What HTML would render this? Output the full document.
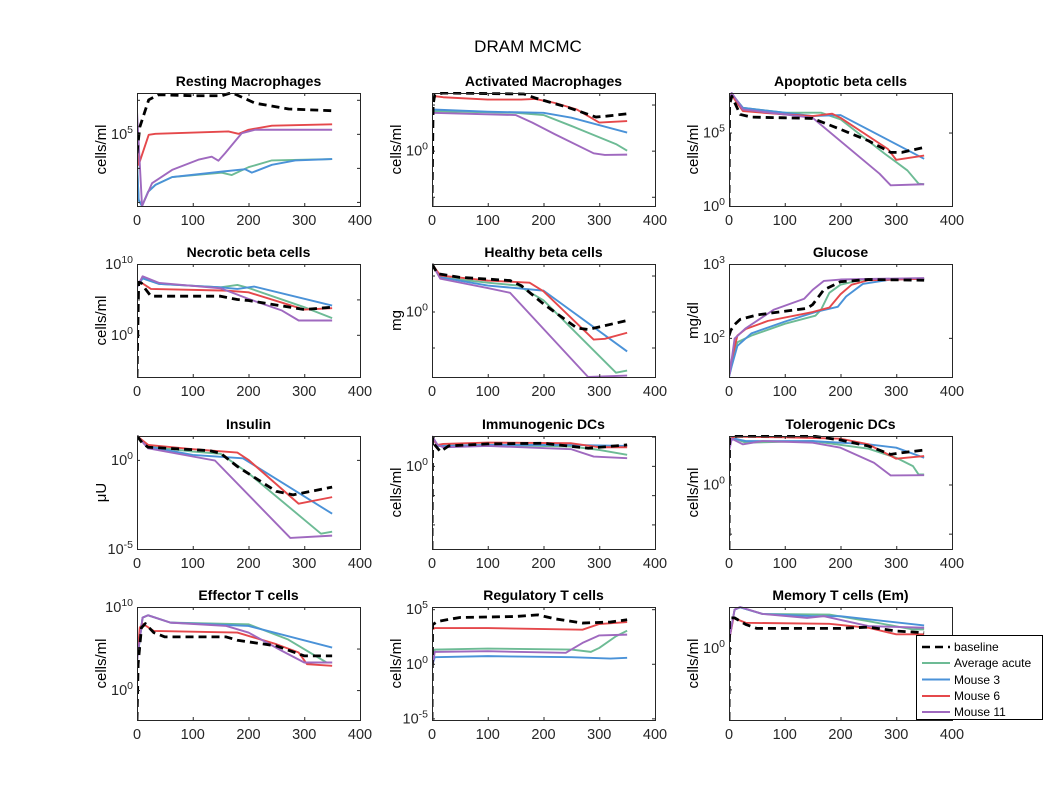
<!DOCTYPE html>
<html><head><meta charset="utf-8">
<style>
html,body{margin:0;padding:0;background:#fff;}
svg{display:block;font-family:"Liberation Sans",Arial,sans-serif;}
</style></head>
<body>
<svg id="fig" width="1055" height="807" viewBox="0 0 1055 807">
<rect x="0" y="0" width="1055" height="807" fill="#ffffff"/>
<text x="528" y="52" text-anchor="middle" font-size="17" fill="#000">DRAM MCMC</text>
<g id="legend">
<rect x="916.5" y="635.5" width="126" height="84" fill="#fff" stroke="#000" stroke-width="1"/>
<line x1="922" y1="647" x2="950" y2="647" stroke="#000" stroke-width="2.5" stroke-dasharray="8,5"/>
<text x="954" y="651" font-size="12">baseline</text>
<line x1="922" y1="663" x2="950" y2="663" stroke="#6dbb95" stroke-width="2"/>
<text x="954" y="667" font-size="12">Average acute</text>
<line x1="922" y1="679.5" x2="950" y2="679.5" stroke="#4a92d8" stroke-width="2"/>
<text x="954" y="684" font-size="12">Mouse 3</text>
<line x1="922" y1="696" x2="950" y2="696" stroke="#e5484b" stroke-width="2"/>
<text x="954" y="700" font-size="12">Mouse 6</text>
<line x1="922" y1="712" x2="950" y2="712" stroke="#9f69bf" stroke-width="2"/>
<text x="954" y="716" font-size="12">Mouse 11</text>
</g>
</svg>
<script>
// x-axis ticks (days)
const xTicks = [0,100,200,300,400];
// values are log10 of the quantity; each series is [time, log10(value)]
// 1 Resting Macrophages
const rm_base=[[0,4.43],[5,5.2],[21,6.0],[39,6.15],[100,6.12],[152,6.12],[170,6.21],[212,5.9],[272,5.73],[350,5.68]];
const rm_avg=[[0,4.2],[3,3.06],[9,2.88],[20,3.3],[33,3.5],[63,3.73],[152,3.86],[170,3.79],[200,4.02],[242,4.22],[350,4.26]];
const rm_m3=[[0,4.2],[3,3.06],[9,2.88],[20,3.3],[33,3.5],[63,3.73],[152,3.89],[194,3.96],[206,3.86],[242,4.09],[284,4.22],[350,4.26]];
const rm_m6=[[0,4.82],[3,4.09],[21,4.97],[33,5.0],[164,5.07],[182,5.0],[200,5.12],[242,5.24],[350,5.28]];
const rm_m11=[[0,5.66],[9,2.88],[27,3.55],[63,3.94],[110,4.24],[134,4.33],[146,4.21],[158,4.43],[188,5.02],[212,5.12],[350,5.12]];
// 2 Activated Macrophages
const am_base=[[0,-6],[2,5.0],[5,6.07],[20,6.25],[165,6.14],[185,5.71],[246,4.65],[294,3.64],[314,3.75],[350,4.0]];
const am_avg=[[0,4.28],[150,4.1],[200,3.86],[250,2.68],[330,0.71],[350,0.0]];
const am_m3=[[0,4.46],[100,4.22],[200,4.1],[250,3.57],[350,1.96]];
const am_m6=[[0,5.54],[7,5.89],[20,5.79],[100,5.54],[160,5.54],[185,5.61],[220,5.18],[260,4.46],[300,3.04],[350,3.21]];
const am_m11=[[0,4.1],[150,3.86],[180,3.04],[220,1.79],[290,-0.29],[310,-0.46],[350,-0.43]];
// 3 Apoptotic beta cells
const ap_base=[[0,0],[1,6.9],[5,7.47],[20,6.23],[40,6.05],[100,6.0],[150,5.96],[200,5.22],[250,4.44],[290,3.65],[310,3.65],[350,3.99]];
const ap_avg=[[0,7.35],[5,7.62],[25,6.68],[100,6.35],[165,6.35],[200,5.9],[280,3.54],[320,2.42],[340,1.52],[350,1.48]];
const ap_m3=[[0,7.35],[5,7.62],[25,6.68],[100,6.35],[150,6.12],[200,6.19],[350,3.21]];
const ap_m6=[[0,7.13],[5,7.53],[25,6.46],[100,6.23],[150,6.12],[185,6.28],[200,6.0],[285,3.88],[300,3.14],[350,3.43]];
const ap_m11=[[0,7.47],[5,7.69],[25,6.57],[100,6.23],[150,6.0],[270,2.2],[290,1.41],[350,1.48]];
// 4 Necrotic beta cells
const nb_base=[[0,-5.96],[3,7.42],[8,7.3],[15,6.48],[25,5.45],[150,5.45],[180,4.98],[200,4.84],[300,3.57],[350,3.9]];
const nb_avg=[[0,6.71],[10,7.98],[40,7.18],[150,6.71],[180,7.04],[200,6.62],[300,3.9],[350,2.35]];
const nb_m3=[[0,6.71],[10,7.98],[40,7.18],[150,6.71],[180,6.48],[210,6.81],[350,4.13]];
const nb_m6=[[0,6.95],[5,7.51],[25,6.48],[160,6.24],[200,6.0],[300,3.57],[350,3.76]];
const nb_m11=[[0,6.71],[10,8.26],[40,7.32],[150,6.57],[200,5.07],[260,3.43],[290,2.02],[350,2.02]];
// 5 Healthy beta cells
const hb_base=[[0,1.32],[10,1.05],[50,0.95],[140,0.86],[160,0.72],[200,0.21],[260,-0.46],[280,-0.5],[350,-0.25]];
const hb_avg=[[0,1.32],[15,0.95],[100,0.8],[155,0.72],[200,0.31],[330,-1.7],[350,-1.64]];
const hb_m3=[[0,1.32],[15,0.95],[100,0.72],[150,0.65],[200,0.58],[350,-1.11]];
const hb_m6=[[0,1.32],[15,1.0],[100,0.86],[175,0.8],[200,0.56],[290,-0.78],[310,-0.76],[350,-0.59]];
const hb_m11=[[0,1.32],[15,0.91],[100,0.65],[140,0.52],[280,-1.82],[350,-1.78]];
// 6 Glucose
const gl_base=[[0,2.03],[3,2.1],[10,2.18],[20,2.25],[50,2.31],[100,2.36],[140,2.4],[150,2.45],[170,2.65],[200,2.76],[250,2.79],[350,2.78]];
const gl_avg=[[0,1.47],[5,1.65],[15,1.94],[40,2.03],[100,2.19],[155,2.3],[165,2.38],[180,2.61],[200,2.72],[240,2.79],[350,2.8]];
const gl_m3=[[0,1.47],[5,1.62],[15,1.89],[40,2.06],[100,2.22],[160,2.36],[195,2.42],[210,2.56],[240,2.73],[290,2.79],[350,2.8]];
const gl_m6=[[0,1.55],[5,1.71],[15,2.03],[30,2.12],[70,2.23],[150,2.35],[180,2.41],[200,2.59],[220,2.72],[250,2.78],[350,2.8]];
const gl_m11=[[0,2.0],[1,1.5],[10,1.99],[30,2.13],[80,2.38],[135,2.53],[150,2.65],[170,2.77],[200,2.79],[350,2.81]];
// 7 Insulin
const in_base=[[0,1.34],[10,0.93],[20,0.71],[130,0.52],[150,0.37],[180,-0.37],[250,-1.77],[280,-1.96],[350,-1.53]];
const in_avg=[[0,1.34],[20,0.75],[100,0.47],[150,0.34],[200,-0.75],[330,-4.14],[350,-4.03]];
const in_m3=[[0,1.34],[20,0.75],[100,0.28],[190,0.09],[350,-3.02]];
const in_m6=[[0,1.34],[20,0.84],[100,0.6],[180,0.41],[200,0],[290,-2.46],[350,-2.09]];
const in_m11=[[0,1.34],[20,0.65],[100,0.19],[140,-0.04],[275,-4.38],[350,-4.25]];
// 8 Immunogenic DCs
const id_base=[[0,-14.2],[1,4.7],[5,3.58],[15,2.44],[30,3.41],[100,3.75],[200,3.86],[280,3.01],[350,3.58]];
const id_avg=[[0,4.9],[10,3.41],[100,3.58],[250,3.3],[300,2.73],[350,1.88]];
const id_m3=[[0,4.9],[10,3.41],[100,3.58],[250,3.58],[350,3.41]];
const id_m6=[[0,4.7],[10,3.58],[20,3.75],[100,3.98],[250,3.86],[300,3.18],[350,3.18]];
const id_m11=[[0,5.1],[10,3.58],[20,3.18],[100,3.41],[250,2.84],[290,1.59],[350,1.31]];
// 9 Tolerogenic DCs
const td_base=[[0,-6.56],[1,4.76],[15,4.93],[150,4.93],[200,4.52],[250,3.91],[290,3.06],[310,3.23],[350,3.5]];
const td_avg=[[0,4.42],[10,4.66],[30,4.25],[150,4.42],[250,3.64],[300,2.72],[330,1.87],[340,1.02],[350,1.02]];
const td_m3=[[0,4.42],[10,4.66],[30,4.42],[150,4.42],[250,4.08],[300,3.74],[350,2.72]];
const td_m6=[[0,4.59],[10,4.86],[100,4.8],[200,4.66],[250,4.08],[300,2.62],[350,2.89]];
const td_m11=[[0,3.4],[5,4.66],[25,4.08],[60,4.42],[150,4.25],[200,3.74],[260,2.21],[290,0.92],[350,0.95]];
// 10 Effector T cells
const ef_base=[[0,-3.6],[2,3.12],[8,7.52],[15,8.0],[30,6.92],[50,6.4],[160,6.4],[180,6.0],[250,5.32],[300,4.12],[350,4.12]];
const ef_avg=[[0,3.52],[10,8.72],[20,9.0],[60,8.12],[200,7.92],[270,6.12],[340,3.32],[350,3.32]];
const ef_m3=[[0,3.52],[10,8.72],[20,9.0],[60,8.12],[200,7.72],[350,5.12]];
const ef_m6=[[0,3.52],[5,7.52],[10,8.0],[30,7.12],[180,6.92],[250,5.52],[290,4.52],[305,3.12],[350,2.92]];
const ef_m11=[[0,3.52],[10,8.72],[20,9.0],[60,8.12],[160,7.72],[200,6.92],[260,4.72],[300,3.32],[350,3.32]];
// 11 Regulatory T cells
const rg_base=[[0,-5.15],[1,3.58],[10,3.88],[50,4.24],[150,4.33],[190,4.48],[220,4.12],[270,3.73],[320,3.82],[350,4.03]];
const rg_avg=[[0,0],[5,1.3],[100,1.39],[250,1.3],[285,1.09],[300,1.45],[330,2.52],[350,3.03]];
const rg_m3=[[0,-0.2],[5,0.6],[100,0.7],[250,0.6],[320,0.48],[350,0.55]];
const rg_m6=[[0,3.12],[5,3.27],[100,3.27],[270,3.12],[300,3.64],[350,3.82]];
const rg_m11=[[0,-0.4],[5,1.09],[100,1.15],[240,1.0],[270,1.91],[300,2.6],[350,2.67]];
// 12 Memory T cells (Em)
const mt_base=[[0,-8.72],[1,3.68],[10,3.68],[20,3.28],[30,2.88],[50,2.4],[200,2.4],[250,2.56],[300,2.08],[350,1.88]];
const mt_avg=[[0,0.88],[10,4.68],[20,4.96],[60,4.16],[180,4.08],[250,3.28],[330,2.28],[350,2.28]];
const mt_m3=[[0,0.88],[10,4.68],[20,4.96],[60,4.16],[150,3.88],[200,3.88],[350,2.76]];
const mt_m6=[[0,0.88],[8,3.68],[30,3.08],[180,2.96],[250,2.48],[300,1.68],[350,1.68]];
const mt_m11=[[0,0.88],[10,4.68],[20,5.0],[60,4.16],[140,3.68],[170,3.88],[250,2.68],[350,2.48]];

// panel titles, y-axis labels, log10 y-limits, tick exponents, labelled exponents
const panelTitles=["Resting Macrophages","Activated Macrophages","Apoptotic beta cells","Necrotic beta cells","Healthy beta cells","Glucose","Insulin","Immunogenic DCs","Tolerogenic DCs","Effector T cells","Regulatory T cells","Memory T cells (Em)"];
const yLabels=["cells/ml","cells/ml","cells/ml","cells/ml","mg","mg/dl","\u03BCU","cells/ml","cells/ml","cells/ml","cells/ml","cells/ml"];
const yLo=[2.88,-6,0,-5.96,-1.82,1.47,-5,-14.2,-6.56,-3.6,-5.15,-8.72];
const yHi=[6.2,6.25,7.69,10,1.32,3,1.34,5.1,4.93,10,5.2,5.0];
const yTickExp=[[3,4,5,6],[-5,0,5],[0,5],[0,5,10],[-1,0,1],[2,3],[-5,0],[-10,-5,0,5],[-5,0],[0,5,10],[-5,0,5],[-5,0]];
const yTickLabeled=[[5],[0],[0,5],[0,10],[0],[2,3],[-5,0],[0],[0],[0,10],[-5,0,5],[0]];
const seriesByPanel=[
 [rm_avg,rm_m3,rm_m6,rm_m11,rm_base],[am_avg,am_m3,am_m6,am_m11,am_base],[ap_avg,ap_m3,ap_m6,ap_m11,ap_base],
 [nb_avg,nb_m3,nb_m6,nb_m11,nb_base],[hb_avg,hb_m3,hb_m6,hb_m11,hb_base],[gl_avg,gl_m3,gl_m6,gl_m11,gl_base],
 [in_avg,in_m3,in_m6,in_m11,in_base],[id_avg,id_m3,id_m6,id_m11,id_base],[td_avg,td_m3,td_m6,td_m11,td_base],
 [ef_avg,ef_m3,ef_m6,ef_m11,ef_base],[rg_avg,rg_m3,rg_m6,rg_m11,rg_base],[mt_avg,mt_m3,mt_m6,mt_m11,mt_base]];
const seriesNames=["average-acute","mouse-3","mouse-6","mouse-11","baseline"];
const seriesColors=["#6dbb95","#4a92d8","#e5484b","#9f69bf","#000000"];

const NS="http://www.w3.org/2000/svg";
const svg=document.getElementById('fig');
const legend=document.getElementById('legend');
const colX=[137,432,729], rowY=[93,264,436,607], W=223, H=113;
function mk(tag,attrs,parent){const e=document.createElementNS(NS,tag);for(const k in attrs)e.setAttribute(k,attrs[k]);(parent||svg).appendChild(e);return e;}
function slug(s){return s.toLowerCase().replace(/[^a-z0-9]+/g,'-').replace(/(^-|-$)/g,'');}

panelTitles.forEach((title,i)=>{
  const x0=colX[i%3], y0=rowY[Math.floor(i/3)];
  const lo=yLo[i], hi=yHi[i];
  const xs=t=>x0+t/400*W;
  const ys=v=>y0+H-(v-lo)/(hi-lo)*H;
  const g=mk('g',{});
  
  
  const clipId='clip'+i;
  const cp=mk('clipPath',{id:clipId},g);
  mk('rect',{x:x0,y:y0-1,width:W+1,height:H+2},cp);
  const tt=mk('text',{x:x0+W/2,y:y0-7,'text-anchor':'middle','font-size':14,'font-weight':'bold'},g);
  tt.textContent=title;
  
  
  const yl=mk('text',{x:0,y:0,'text-anchor':'middle','font-size':15,transform:`translate(${x0-31},${y0+H/2}) rotate(-90)`},g);
  yl.textContent=yLabels[i];
  
  
  seriesByPanel[i].forEach((s,k)=>{
    const pts=s.map(p=>xs(p[0]).toFixed(2)+','+ys(p[1]).toFixed(2)).join(' ');
    const pl=mk('polyline',{points:pts,fill:'none',stroke:seriesColors[k],'stroke-width':k===4?2.8:1.9,'stroke-linejoin':'round','clip-path':`url(#${clipId})`},g);
    if(k===4)pl.setAttribute('stroke-dasharray','8,5');
    
    
  });
  const bx=mk('rect',{x:x0+0.5,y:y0+0.5,width:W,height:H,fill:'none',stroke:'#262626','stroke-width':1},g);
  
  
  xTicks.forEach(t=>{
    const X=xs(t)+0.5;
    mk('line',{x1:X,y1:y0+H,x2:X,y2:y0+H-3,stroke:'#262626'},g);
    mk('line',{x1:X,y1:y0,x2:X,y2:y0+3,stroke:'#262626'},g);
    const lb=mk('text',{x:xs(t),y:y0+H+19,'text-anchor':'middle','font-size':14.5,fill:'#262626'},g);
    lb.textContent=t;
    
    
  });
  yTickExp[i].forEach(e=>{
    if(e<lo-0.01||e>hi+0.01)return;
    const Y=ys(e)+0.5;
    mk('line',{x1:x0,y1:Y,x2:x0+3,y2:Y,stroke:'#262626'},g);
    mk('line',{x1:x0+W,y1:Y,x2:x0+W-3,y2:Y,stroke:'#262626'},g);
    if(yTickLabeled[i].indexOf(e)>=0){
      const lb=mk('text',{x:x0-4,y:ys(e)+5,'text-anchor':'end','font-size':14.5,fill:'#262626'},g);
      const a=mk('tspan',{},lb);a.textContent='10';
      const b=mk('tspan',{dy:-6,'font-size':10.5},lb);b.textContent=String(e);
      
      
    }
  });
});
svg.appendChild(legend);
</script>
</body></html>
